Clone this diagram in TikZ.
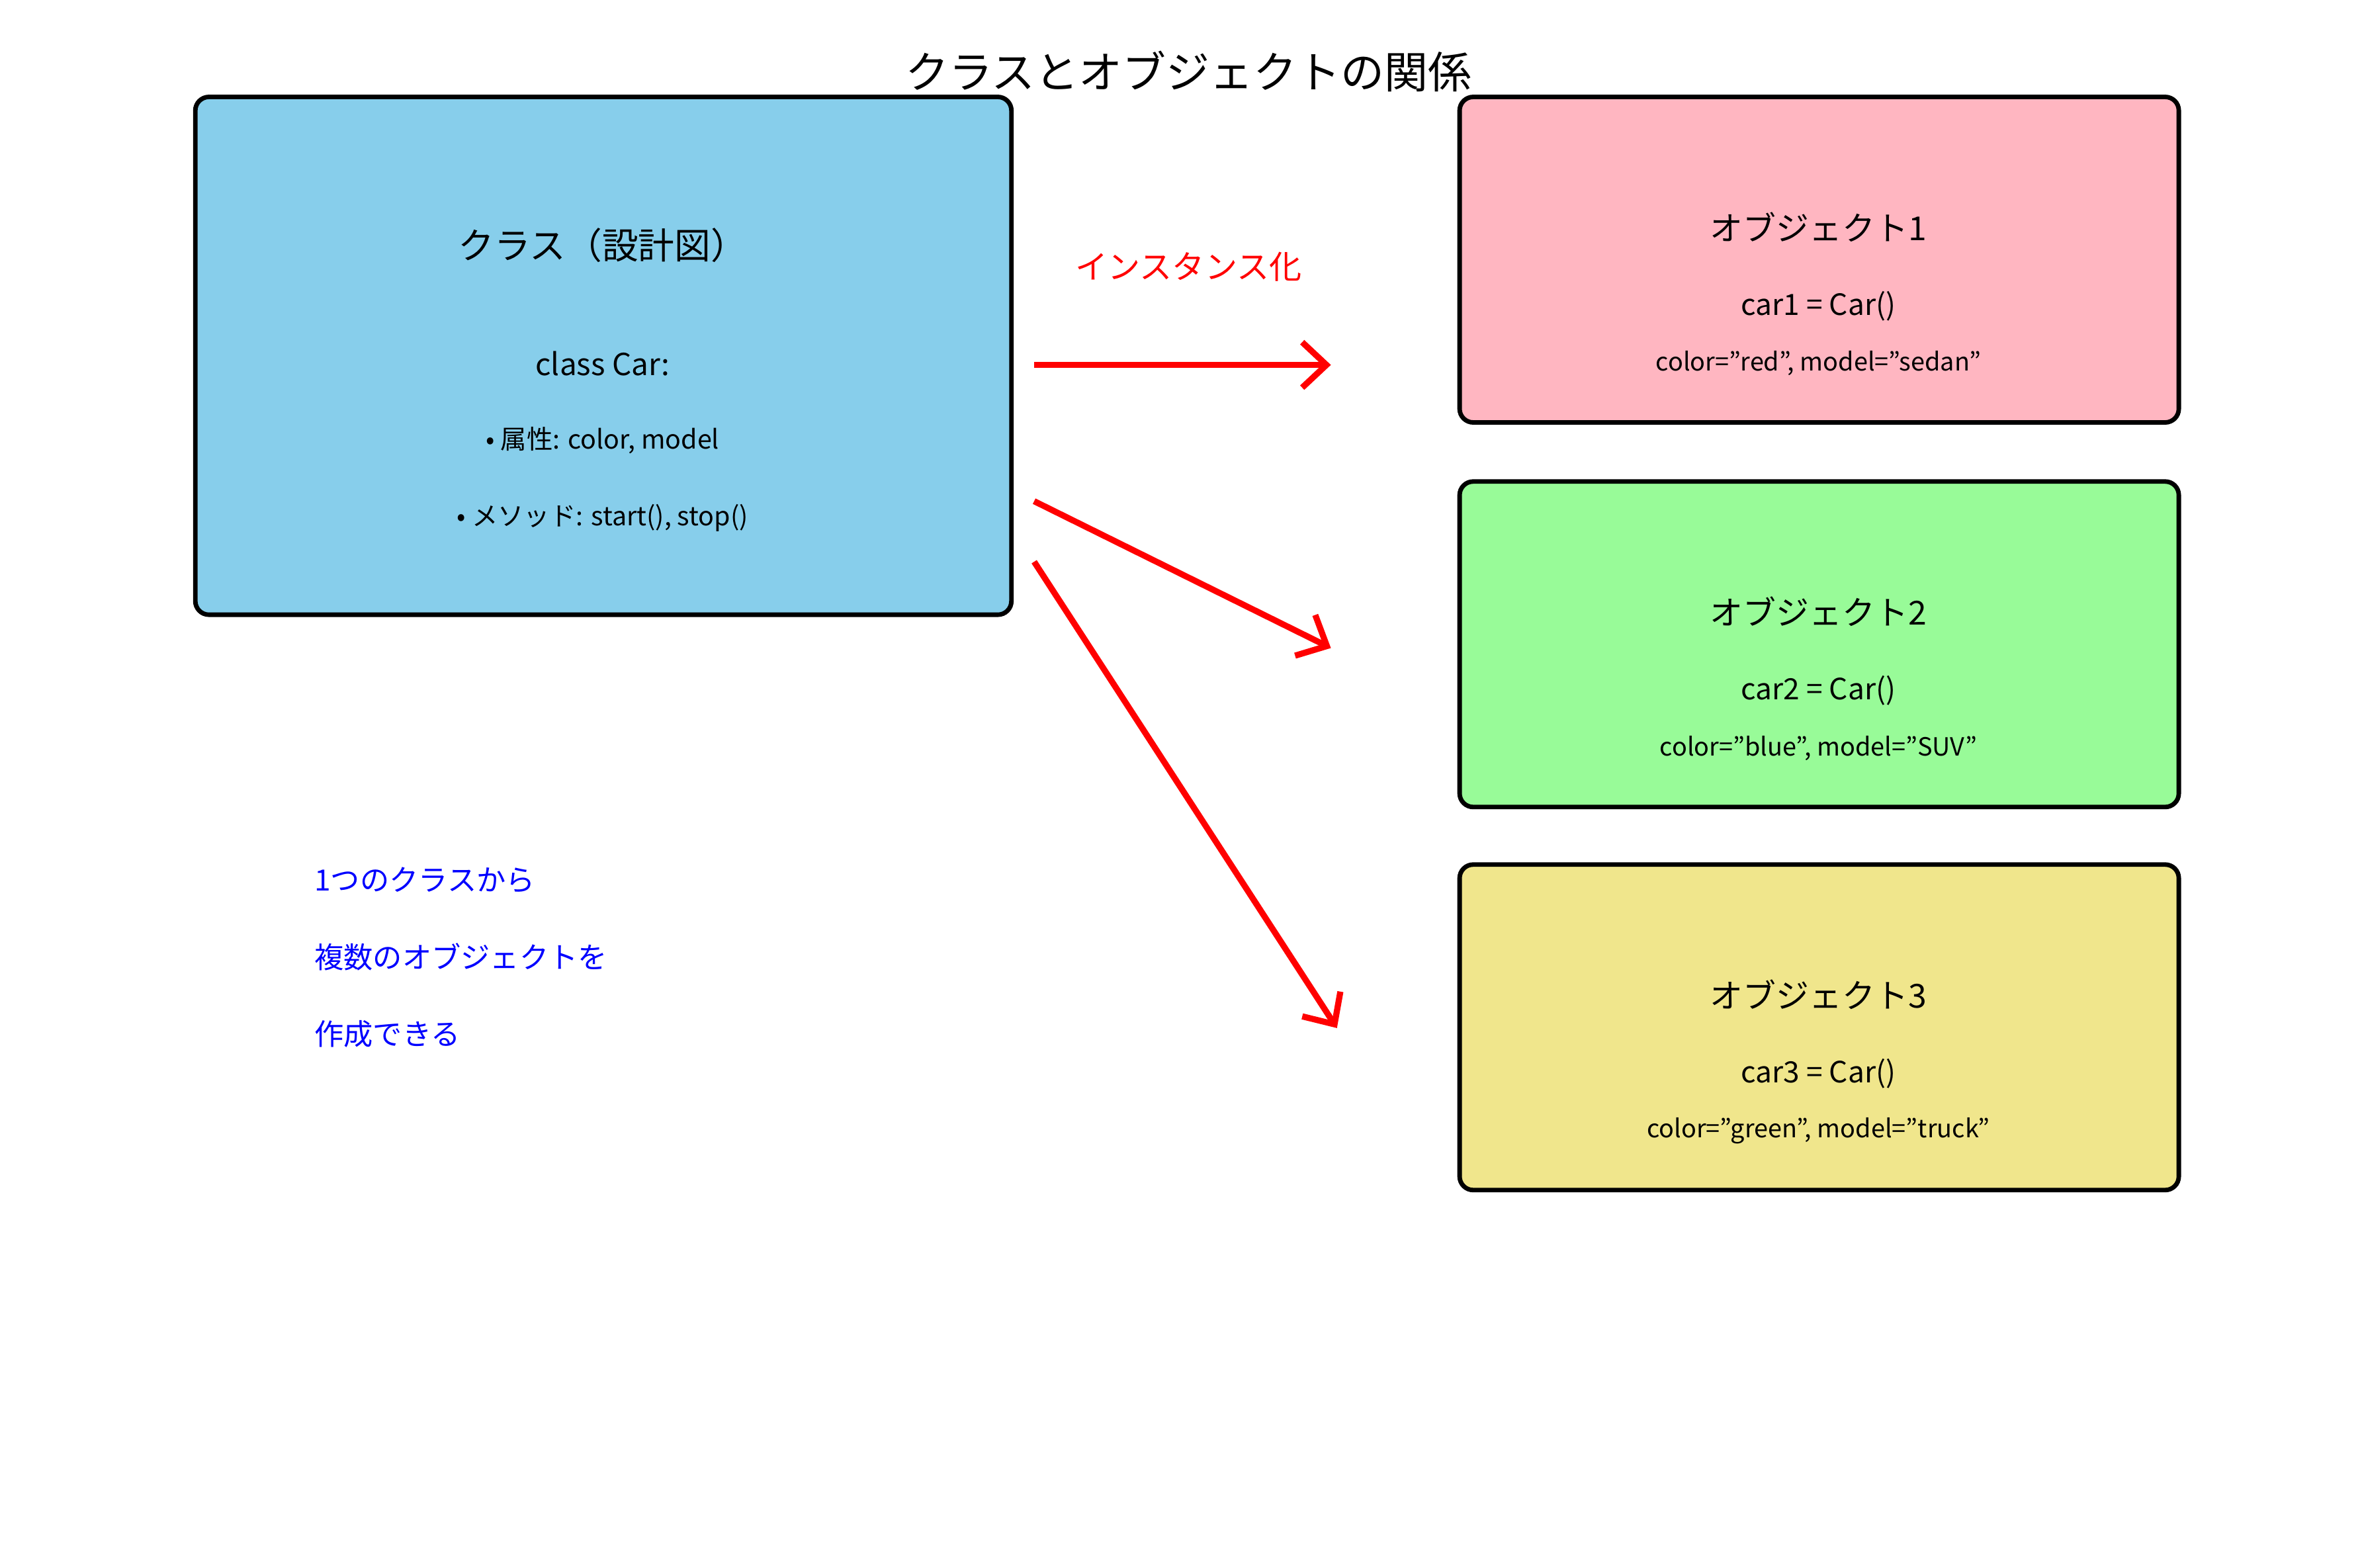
\documentclass[tikz,border=0pt]{standalone}
\usepackage{fontspec}
\setmainfont{Noto Sans CJK JP}
\usetikzlibrary{arrows.meta}
\definecolor{skyb}{HTML}{87CEEB}
\definecolor{pinkb}{HTML}{FFB6C1}
\definecolor{greenb}{HTML}{98FB98}
\definecolor{khakib}{HTML}{F0E68C}
\tikzset{
  box/.style={draw=black,line width=0.85pt,rounded corners=0.09cm},
  arr/.style={draw=red,line width=1.15pt,-{Straight Barb[length=0.16cm,width=0.3cm,line width=1.15pt]}},
  t/.style={inner sep=0pt,anchor=center},
}
\begin{document}
\begin{tikzpicture}[x=0.01cm,y=-0.01cm]
\useasboundingbox (0,0) rectangle (1560,1035.6);
\node[t,font=\fontsize{8.2}{10}\selectfont] (title) at (785,47) {クラスとオブジェクトの関係};
\draw[box,fill=skyb] (129,64) rectangle (668,406);
\coordinate (cls) at (668,241);
\node[t,font=\fontsize{6.8}{8}\selectfont] (ct) at (398,162) {クラス（設計図）};
\node[t,font=\fontsize{5.7}{7}\selectfont] (cc) at (398,240) {class Car:};
\node[t,font=\fontsize{4.9}{6}\selectfont] (ca) at (398,291) {• 属性: color, model};
\node[t,font=\fontsize{4.9}{6}\selectfont] (cm) at (398,342) {• メソッド: start(), stop()};
\foreach \i/\c/\y/\a/\b in {1/pinkb/64/car1 = Car()/{color="red", model="sedan"},
  2/greenb/318/car2 = Car()/{color="blue", model="SUV"},
  3/khakib/571/car3 = Car()/{color="green", model="truck"}}{
  \draw[box,fill=\c] (964,\y) rectangle (1439,\y+215);
  \node[t,font=\fontsize{6.2}{8}\selectfont] (o\i) at (1201,\y+86) {オブジェクト\i};
  \node[t,font=\fontsize{5.5}{7}\selectfont] (oc\i) at (1201,\y+138) {\a};
  \node[t,font=\fontsize{4.7}{6}\selectfont] (oa\i) at (1201,\y+176) {\b};
}
\coordinate (s1) at (683,241); \coordinate (e1) at (879,241);
\coordinate (s2) at (683,331); \coordinate (e2) at (879,428);
\coordinate (s3) at (683,371); \coordinate (e3) at (883,679);
\draw[arr] (s1) -- (e1);
\draw[arr] (s2) -- (e2);
\draw[arr] (s3) -- (e3);
\node[t,text=red,font=\fontsize{6.1}{8}\selectfont] (inst) at (785,176) {インスタンス化};
\node[t,anchor=west,text=blue,font=\fontsize{5.5}{7}\selectfont] (n1) at (207,581) {1つのクラスから};
\node[t,anchor=west,text=blue,font=\fontsize{5.5}{7}\selectfont] (n2) at (207,632) {複数のオブジェクトを};
\node[t,anchor=west,text=blue,font=\fontsize{5.5}{7}\selectfont] (n3) at (207,683) {作成できる};
\end{tikzpicture}
\end{document}
